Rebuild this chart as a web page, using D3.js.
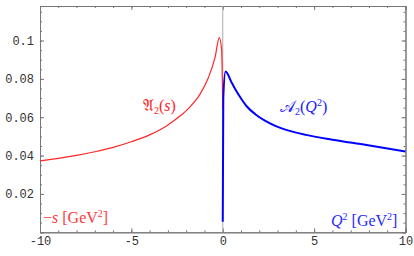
<!DOCTYPE html>
<html>
<head>
<meta charset="utf-8">
<script src="https://cdn.jsdelivr.net/npm/d3@7"></script>
<style>
  body { margin: 0; background: #fff; }
  .tick text { font-family: "Liberation Mono", "DejaVu Sans Mono", monospace; font-size: 12px; fill: #333; }
  .lbl { font-family: "Liberation Serif", "DejaVu Serif", serif; font-size: 16px; }
</style>
</head>
<body>
<div id="chart"></div>
<script>
var width = 414, height = 256;

// timelike (red) curve, x = -s
var redX = [-10, -9, -8, -7, -6, -5, -4, -3.43, -3, -2.34, -1.8, -1.25, -0.8, -0.42, -0.19, -0.06, 0];
var redY = [0.0372, 0.0385, 0.0401, 0.0420, 0.0443, 0.0472, 0.0508, 0.0535, 0.0560, 0.0606, 0.0653, 0.0719, 0.0803, 0.0912, 0.1015, 0.0950, 0.0640];
// spacelike (blue) curve, x = Q^2
var blueX = [0, 0.03, 0.15, 0.5, 0.87, 1.32, 1.78, 2.33, 2.87, 3.61, 4.55, 6.0, 7.87, 10];
var blueY = [0.0055, 0.0700, 0.0838, 0.0778, 0.0717, 0.0656, 0.0616, 0.0581, 0.0555, 0.0530, 0.0508, 0.0483, 0.0455, 0.0421];

var xTicks = [-10, -5, 0, 5, 10];
var yTicks = [0.02, 0.04, 0.06, 0.08, 0.1];
var yTickLabels = ["0.02", "0.04", "0.06", "0.08", "0.1"];

var svg = d3.select("#chart").append("svg").attr("width", width).attr("height", height);

var x = d3.scaleLinear().domain([-10, 10]).range([40, 405.5]);
var y = d3.scaleLinear().domain([0, 0.118]).range([232.3, 6]);

// minor ticks
var xMinor = d3.range(-10, 10.01, 1);
var yMinor = d3.range(0, 0.1175, 0.005);

function styleAxis(g) {
  g.select(".domain").attr("stroke", "#777");
  g.selectAll(".tick line").attr("stroke", "#777");
}

// bottom
svg.append("g").attr("transform", "translate(0," + y(0) + ")")
  .call(d3.axisBottom(x).tickValues(xMinor).tickSize(-2).tickFormat("")).call(styleAxis);
svg.append("g").attr("transform", "translate(0," + y(0) + ")")
  .call(d3.axisBottom(x).tickValues(xTicks).tickSize(-4).tickPadding(4)
    .tickFormat(function(d) { return d < 0 ? "-" + (-d) : d; })).call(styleAxis);
// top
svg.append("g").attr("transform", "translate(0," + y(0.118) + ")")
  .call(d3.axisTop(x).tickValues(xMinor).tickSize(-2).tickFormat("")).call(styleAxis);
svg.append("g").attr("transform", "translate(0," + y(0.118) + ")")
  .call(d3.axisTop(x).tickValues(xTicks).tickSize(-4).tickFormat("")).call(styleAxis);
// left
svg.append("g").attr("transform", "translate(" + x(-10) + ",0)")
  .call(d3.axisLeft(y).tickValues(yMinor).tickSize(-2).tickFormat("")).call(styleAxis);
svg.append("g").attr("transform", "translate(" + x(-10) + ",0)")
  .call(d3.axisLeft(y).tickValues(yTicks).tickSize(-4).tickPadding(6)
    .tickFormat(function(d, i) { return yTickLabels[i]; })).call(styleAxis);
// right
svg.append("g").attr("transform", "translate(" + x(10) + ",0)")
  .call(d3.axisRight(y).tickValues(yMinor).tickSize(-2).tickFormat("")).call(styleAxis);
svg.append("g").attr("transform", "translate(" + x(10) + ",0)")
  .call(d3.axisRight(y).tickValues(yTicks).tickSize(-4).tickFormat("")).call(styleAxis);

// vertical line at 0
svg.append("line")
  .attr("x1", x(0)).attr("x2", x(0)).attr("y1", y(0.118)).attr("y2", y(0))
  .attr("stroke", "#aaa").attr("stroke-width", 1);

var line = d3.line().curve(d3.curveMonotoneX);

svg.append("path")
  .attr("d", line(redX.map(function(d, i) { return [x(d), y(redY[i])]; })))
  .attr("fill", "none").attr("stroke", "#ff2626").attr("stroke-width", 1.2);

svg.append("path")
  .attr("d", line(blueX.map(function(d, i) { return [x(d), y(blueY[i])]; })))
  .attr("fill", "none").attr("stroke", "#0000ff").attr("stroke-width", 2);

// labels
var t1 = svg.append("text").attr("class", "lbl").attr("x", 143).attr("y", 111).attr("fill", "#ff2626");
t1.append("tspan").text("𝔄");
t1.append("tspan").attr("font-size", 10).attr("dy", 3).text("2");
t1.append("tspan").attr("dy", -3).text("(");
t1.append("tspan").attr("font-style", "italic").text("s");
t1.append("tspan").text(")");

var t2 = svg.append("text").attr("class", "lbl").attr("x", 280).attr("y", 112).attr("fill", "#2020ff");
t2.append("tspan").text("𝒜");
t2.append("tspan").attr("font-size", 10).attr("dy", 3).text("2");
t2.append("tspan").attr("dy", -3).text("(");
t2.append("tspan").attr("font-style", "italic").text("Q");
t2.append("tspan").attr("font-size", 10).attr("dy", -6).text("2");
t2.append("tspan").attr("dy", 6).text(")");

var t3 = svg.append("text").attr("class", "lbl").attr("x", 43).attr("y", 223).attr("fill", "#ff3a3a");
t3.append("tspan").text("−");
t3.append("tspan").attr("font-style", "italic").text("s");
t3.append("tspan").text(" [GeV");
t3.append("tspan").attr("font-size", 10).attr("dy", -6).text("2");
t3.append("tspan").attr("dy", 6).text("]");

var t4 = svg.append("text").attr("class", "lbl").attr("x", 331).attr("y", 226).attr("fill", "#2a2aff");
t4.append("tspan").attr("font-style", "italic").text("Q");
t4.append("tspan").attr("font-size", 10).attr("dy", -6).text("2");
t4.append("tspan").attr("dy", 6).text(" [GeV");
t4.append("tspan").attr("font-size", 10).attr("dy", -6).text("2");
t4.append("tspan").attr("dy", 6).text("]");
</script>
</body>
</html>
